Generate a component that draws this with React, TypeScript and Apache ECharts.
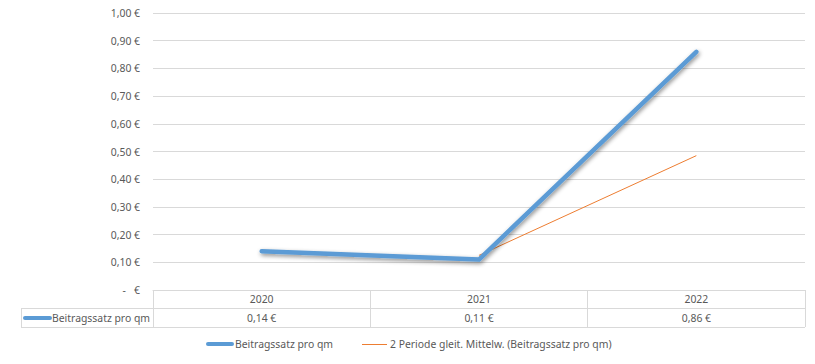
import React, { useEffect, useRef } from "react";
import * as echarts from "echarts";

const years = ["2020", "2021", "2022"];
const beitrag = [0.14, 0.11, 0.86];
const gleitMittel = [null, 0.125, 0.485];
const seriesNames = ["Beitragssatz pro qm", "2 Periode gleit. Mittelw. (Beitragssatz pro qm)"];

const TEXT = "#595959";
const GRID = "#d9d9d9";
const FONT = "Noto Sans";
const FS = 10.4;
const BLUE = "#5B9BD5";
const ORANGE = "#ED7D31";

const fmtEuro = (v: number) => (v === 0 ? "-   €" : v.toFixed(2).replace(".", ",") + " €");

export default function App() {
  const ref = useRef<HTMLDivElement>(null);
  useEffect(() => {
    if (!ref.current) return;
    const chart = echarts.init(ref.current, null, { renderer: "svg" });
    const txt = (x: number, y: number, text: string) => ({
      type: "text",
      x,
      y,
      silent: true,
      style: { text, fontSize: FS, fill: TEXT, fontFamily: FONT, verticalAlign: "middle" },
    });
    chart.setOption({
      animation: false,
      textStyle: { fontFamily: FONT },
      grid: { left: 153, right: 10, top: 13, bottom: 74 },
      xAxis: {
        type: "category",
        data: years,
        boundaryGap: true,
        axisLine: { show: true, lineStyle: { color: GRID, width: 1 } },
        axisTick: { show: true, length: 37, interval: 0, lineStyle: { color: GRID } },
        axisLabel: {
          margin: 0,
          interval: 0,
          verticalAlign: "top",
          formatter: (val: string, idx: number) => `{y|${val}}\n{v|${fmtEuro(beitrag[idx])}}`,
          rich: {
            y: { fontSize: FS, color: TEXT, lineHeight: 18.5, fontFamily: FONT },
            v: { fontSize: FS, color: TEXT, lineHeight: 18.5, fontFamily: FONT },
          },
        },
      },
      yAxis: {
        type: "value",
        min: 0,
        max: 1,
        interval: 0.1,
        axisLine: { show: false },
        axisTick: { show: false },
        splitLine: { lineStyle: { color: GRID, width: 1 } },
        axisLabel: { margin: 13, fontSize: FS, color: TEXT, fontFamily: FONT, formatter: fmtEuro },
      },
      series: [
        {
          name: seriesNames[0],
          type: "line",
          data: beitrag,
          symbol: "none",
          z: 3,
          lineStyle: {
            color: BLUE,
            width: 4.5,
            cap: "round",
            join: "round",
            shadowColor: "rgba(0,0,0,0.45)",
            shadowBlur: 4,
            shadowOffsetX: 1,
            shadowOffsetY: 2,
          },
          itemStyle: { color: BLUE },
        },
        {
          name: seriesNames[1],
          type: "line",
          data: gleitMittel,
          symbol: "none",
          z: 2,
          lineStyle: { color: ORANGE, width: 1 },
          itemStyle: { color: ORANGE },
        },
      ],
      graphic: [
        { type: "line", shape: { x1: 21, y1: 308.5, x2: 805, y2: 308.5 }, style: { stroke: GRID, lineWidth: 1 }, silent: true },
        { type: "line", shape: { x1: 21, y1: 327.5, x2: 805, y2: 327.5 }, style: { stroke: GRID, lineWidth: 1 }, silent: true },
        { type: "line", shape: { x1: 21.5, y1: 308, x2: 21.5, y2: 328 }, style: { stroke: GRID, lineWidth: 1 }, silent: true },
        { type: "line", shape: { x1: 25, y1: 318, x2: 50, y2: 318 }, style: { stroke: BLUE, lineWidth: 4, lineCap: "round" }, silent: true },
        txt(52, 318, seriesNames[0]),
        { type: "line", shape: { x1: 208, y1: 344, x2: 232, y2: 344 }, style: { stroke: BLUE, lineWidth: 4, lineCap: "round" }, silent: true },
        txt(235, 344, seriesNames[0]),
        { type: "line", shape: { x1: 362, y1: 344.5, x2: 387, y2: 344.5 }, style: { stroke: ORANGE, lineWidth: 1 }, silent: true },
        txt(390, 344, seriesNames[1]),
      ],
    });
    return () => chart.dispose();
  }, []);
  return <div ref={ref} style={{ position: "absolute", left: 0, top: 0, width: 815, height: 364 }} />;
}
